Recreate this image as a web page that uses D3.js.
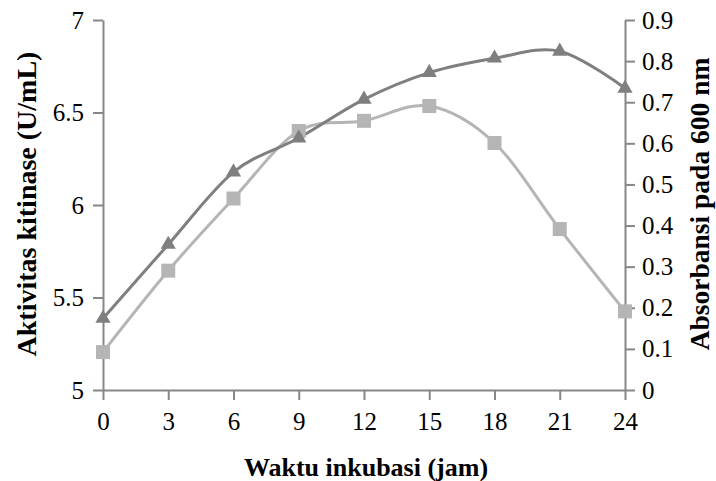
<!DOCTYPE html>
<html>
<head>
<meta charset="utf-8">
<script src="https://cdn.jsdelivr.net/npm/d3@7"></script>
<style>
  html, body { margin: 0; padding: 0; background: #fff; }
  svg { display: block; }
  text { font-family: "Liberation Serif", "Times New Roman", serif; fill: #000; }
</style>
</head>
<body>
<div id="chart"></div>
<script>
// Incubation time (hours)
const hours = [0, 3, 6, 9, 12, 15, 18, 21, 24];
// Chitinase activity (U/mL), left axis
const chitinase = [5.205, 5.645, 6.035, 6.40, 6.455, 6.535, 6.335, 5.87, 5.425];
// Absorbance at 600 nm, right axis
const absorbance = [0.174, 0.354, 0.530, 0.613, 0.707, 0.772, 0.807, 0.824, 0.734];

const leftTicks = [5, 5.5, 6, 6.5, 7];
const rightTicks = [0, 0.1, 0.2, 0.3, 0.4, 0.5, 0.6, 0.7, 0.8, 0.9];

const W = 716, H = 481;
const m = { left: 103, right: 91, top: 20, bottom: 91 };

const svg = d3.select("#chart").append("svg")
  .attr("width", W).attr("height", H);

const x = d3.scaleLinear().domain([0, 24]).range([m.left, W - m.right]);
const yL = d3.scaleLinear().domain([5, 7]).range([H - m.bottom, m.top]);
const yR = d3.scaleLinear().domain([0, 0.9]).range([H - m.bottom, m.top]);

const axisColor = "#878787";

function styleAxis(g) {
  g.selectAll("path, line").attr("stroke", axisColor).attr("stroke-width", 2);
  g.selectAll("text").style("font-size", "25px");
}

svg.append("g")
  .attr("transform", `translate(0,${H - m.bottom})`)
  .call(d3.axisBottom(x).tickValues(hours).tickSize(10).tickSizeOuter(0).tickPadding(12).tickFormat(d3.format("d")))
  .call(styleAxis);

svg.append("g")
  .attr("transform", `translate(${m.left},0)`)
  .call(d3.axisLeft(yL).tickValues(leftTicks).tickSize(10).tickSizeOuter(0).tickPadding(9).tickFormat(d => String(d)))
  .call(styleAxis);

svg.append("g")
  .attr("transform", `translate(${W - m.right},0)`)
  .call(d3.axisRight(yR).tickValues(rightTicks).tickSize(10).tickSizeOuter(0).tickPadding(7).tickFormat(d => String(+d.toFixed(1))))
  .call(styleAxis);

// Smoothed series lines
const curve = d3.curveCardinal.tension(0);
const lineL = d3.line().x((d, i) => x(hours[i])).y(d => yL(d)).curve(curve);
const lineR = d3.line().x((d, i) => x(hours[i])).y(d => yR(d)).curve(curve);

const lightGray = "#b5b5b5";
const darkGray = "#7f7f7f";

svg.append("path").datum(chitinase).attr("d", lineL)
  .attr("fill", "none").attr("stroke", lightGray).attr("stroke-width", 3);

svg.append("path").datum(absorbance).attr("d", lineR)
  .attr("fill", "none").attr("stroke", darkGray).attr("stroke-width", 3);

// Square markers
const sq = 14;
svg.selectAll(".sq").data(chitinase).enter().append("rect")
  .attr("x", (d, i) => x(hours[i]) - sq / 2)
  .attr("y", d => yL(d) - sq / 2)
  .attr("width", sq).attr("height", sq)
  .attr("fill", lightGray);

// Triangle markers
const tri = d3.symbol().type(d3.symbolTriangle).size(100);
svg.selectAll(".tri").data(absorbance).enter().append("path")
  .attr("d", tri)
  .attr("transform", (d, i) => `translate(${x(hours[i])},${yR(d)})`)
  .attr("fill", darkGray);

// Axis titles
svg.append("text")
  .attr("x", 366).attr("y", 476)
  .attr("text-anchor", "middle").style("font-size", "26px").attr("font-weight", "bold")
  .text("Waktu inkubasi (jam)");

svg.append("text")
  .attr("transform", `translate(36,204) rotate(-90)`)
  .attr("text-anchor", "middle").style("font-size", "28px").attr("font-weight", "bold")
  .text("Aktivitas kitinase (U/mL)");

svg.append("text")
  .attr("transform", `translate(709,204) rotate(-90)`)
  .attr("text-anchor", "middle").style("font-size", "27.5px").attr("font-weight", "bold")
  .text("Absorbansi pada 600 nm");
</script>
</body>
</html>
